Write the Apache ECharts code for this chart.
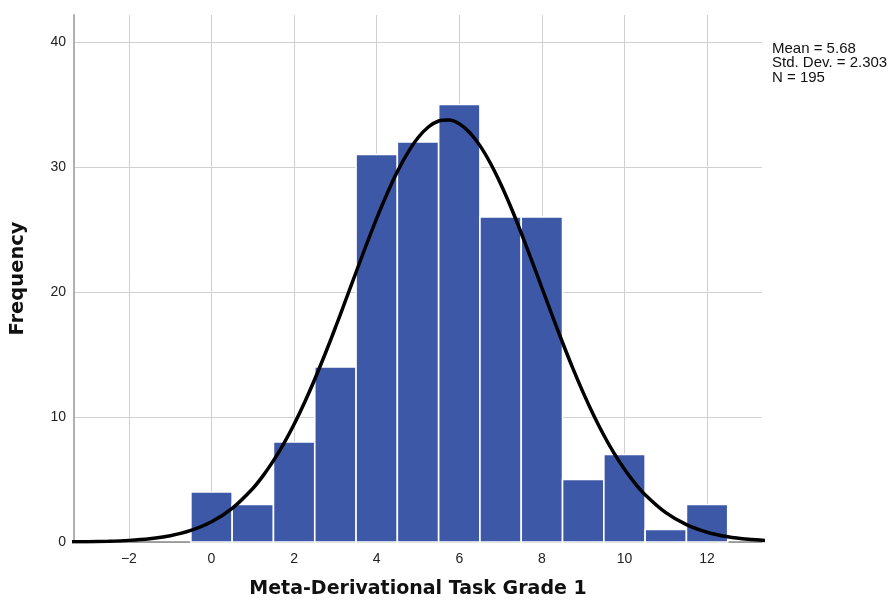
<!DOCTYPE html>
<html>
<head>
<meta charset="utf-8">
<script src="https://cdn.jsdelivr.net/npm/echarts@6/dist/echarts.min.js"></script>
<style>html,body{margin:0;padding:0;background:#fff}#c{width:892px;height:606px}</style>
</head>
<body>
<div id="c"></div>
<script>
// Histogram bins (bin centres) and frequencies
var binCenters = [0, 1, 2, 3, 4, 5, 6, 7, 8, 9, 10, 11, 12];
var frequencies = [4, 3, 8, 14, 31, 32, 35, 26, 26, 5, 7, 1, 3];
// Normal curve (x, frequency)
var curveX = [-3.5, -3, -2.5, -2, -1.5, -1, -0.5, 0, 0.5, 1, 1.25, 1.5, 1.75, 2, 2.25, 2.5, 2.75, 3, 3.25, 3.5, 3.75, 4, 4.25, 4.5, 4.75, 5, 5.25, 5.5, 5.75, 6, 6.25, 6.5, 6.75, 7, 7.25, 7.5, 7.75, 8, 8.25, 8.5, 8.75, 9, 9.25, 9.5, 9.75, 10, 10.25, 10.5, 11, 11.5, 12, 12.5, 13, 13.5];
var curveY = [0.012, 0.028, 0.062, 0.13, 0.262, 0.503, 0.923, 1.614, 2.691, 4.284, 5.311, 6.51, 7.877, 9.42, 11.14, 13.02, 15.04, 17.16, 19.36, 21.58, 23.78, 25.89, 27.86, 29.63, 31.13, 32.34, 33.2, 33.68, 33.76, 33.46, 32.76, 31.71, 30.32, 28.66, 26.78, 24.72, 22.55, 20.34, 18.12, 15.96, 13.89, 11.95, 10.16, 8.54, 7.087, 5.82, 4.716, 3.78, 2.344, 1.387, 0.782, 0.421, 0.216, 0.106];
var xTicks = [-2, 0, 2, 4, 6, 8, 10, 12];
var yTicks = [0, 10, 20, 30, 40];
var statsLines = ['Mean = 5.68', 'Std. Dev. = 2.303', 'N = 195'];
var xTitle = 'Meta-Derivational Task Grade 1';
var yTitle = 'Frequency';

var barData = binCenters.map(function (c, i) { return [c, frequencies[i]]; });
var curveData = curveX.map(function (x, i) { return [x, curveY[i]]; });

var chart = echarts.init(document.getElementById('c'), null, { renderer: 'canvas' });
var labelFont = { color: '#222', fontSize: 14, fontFamily: 'Liberation Sans, Arial, sans-serif' };
chart.setOption({
  animation: false,
  backgroundColor: '#fff',
  grid: { left: 72, right: 130, top: 15, bottom: 64, containLabel: false },
  xAxis: {
    type: 'value', min: -3.33, max: 13.33,
    name: xTitle, nameLocation: 'middle', nameGap: 38,
    nameTextStyle: { fontFamily: 'DejaVu Sans', fontWeight: 'bold', fontSize: 19, color: '#111' },
    axisLine: { show: true, onZero: false, lineStyle: { color: '#888', width: 1.5 } },
    axisTick: { show: false, customValues: xTicks },
    axisLabel: Object.assign({ customValues: xTicks, margin: 10, formatter: function (v) { return String(v).replace('-', '\u2212'); } }, labelFont),
    splitLine: { show: true, lineStyle: { color: '#d0d0d0', width: 1 } }
  },
  yAxis: {
    type: 'value', min: 0, max: 42.16,
    name: yTitle, nameLocation: 'middle', nameGap: 46, nameRotate: 90,
    nameTextStyle: { fontFamily: 'DejaVu Sans', fontWeight: 'bold', fontSize: 19.5, color: '#111' },
    axisLine: { show: true, onZero: false, lineStyle: { color: '#b0b0b0', width: 2 } },
    axisTick: { show: false, customValues: yTicks },
    axisLabel: Object.assign({ customValues: yTicks, margin: 8 }, labelFont),
    splitLine: { show: true, lineStyle: { color: '#d0d0d0', width: 1 } }
  },
  graphic: [{
    type: 'text', left: 772, top: 41,
    style: { text: statsLines.join('\n'), fill: '#111', fontSize: 15, lineHeight: 14.5, fontFamily: 'Liberation Sans, Arial, sans-serif' }
  }],
  series: [{
    type: 'custom',
    data: barData,
    z: 2,
    renderItem: function (params, api) {
      var x = api.value(0), y = api.value(1);
      var p0 = api.coord([x - 0.5, y]);
      var p1 = api.coord([x + 0.5, 0]);
      return {
        type: 'rect',
        shape: { x: p0[0], y: p0[1], width: p1[0] - p0[0], height: p1[1] - p0[1] },
        style: { fill: '#3e58a8', stroke: '#ffffff', lineWidth: 1.6 }
      };
    }
  }, {
    type: 'line',
    data: curveData,
    smooth: 0.3,
    symbol: 'none',
    z: 5,
    lineStyle: { color: '#000', width: 3.5 },
    clip: true
  }]
});
</script>
</body>
</html>
